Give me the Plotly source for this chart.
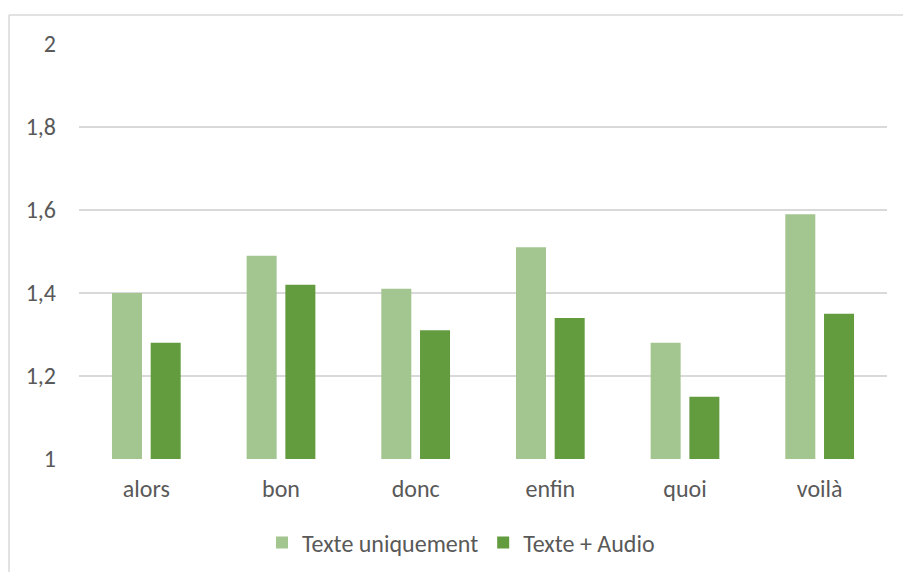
import plotly.graph_objects as go

categories = ["alors", "bon", "donc", "enfin", "quoi", "voilà"]
texte_uniquement = [1.40, 1.49, 1.41, 1.51, 1.28, 1.59]
texte_audio = [1.28, 1.42, 1.31, 1.34, 1.15, 1.35]
tick_vals = [1, 1.2, 1.4, 1.6, 1.8, 2]
tick_text = ["1", "1,2", "1,4", "1,6", "1,8", "2"]

W, H = 903, 572
L, R, T, B = 79, 16, 44, 113
pw, ph = W - L - R, H - T - B

font = dict(family="Carlito, Calibri, 'Open Sans', sans-serif", size=24, color="#595959")

fig = go.Figure()
fig.add_trace(go.Bar(x=categories, y=texte_uniquement, name="Texte uniquement",
                     marker=dict(color="#A3C58F", line=dict(width=0))))
fig.add_trace(go.Bar(x=categories, y=texte_audio, name="Texte + Audio",
                     marker=dict(color="#639B3F", line=dict(width=0))))

# outer chart border (left and top visible)
bx = (9 - L) / pw
by = (H - B - 15) / ph
fig.add_shape(type="line", xref="paper", yref="paper", x0=bx, x1=bx, y0=by, y1=-B / ph - 0.1,
              line=dict(color="#D9D9D9", width=1.5))
fig.add_shape(type="line", xref="paper", yref="paper", x0=bx, x1=(W - L) / pw + 0.1, y0=by, y1=by,
              line=dict(color="#D9D9D9", width=1.5))

fig.update_layout(
    width=W, height=H,
    margin=dict(l=L, r=R, t=T, b=B, autoexpand=False),
    paper_bgcolor="white", plot_bgcolor="white",
    barmode="group", bargap=0.425, bargroupgap=0.225,
    font=font,
    showlegend=True,
    legend=dict(orientation="h", x=(461 - L) / pw, xanchor="center", y=-(543 - (H - B)) / ph,
                yanchor="middle", font=font, itemwidth=30, traceorder="normal"),
    xaxis=dict(showgrid=False, showline=False, ticks="", tickfont=font, ticklabelstandoff=13),
    yaxis=dict(range=[1, 2], tickvals=tick_vals, ticktext=tick_text, showgrid=True,
               gridcolor="#D9D9D9", gridwidth=1.5, zeroline=False, showline=False,
               ticks="", tickfont=font, ticklabelstandoff=22),
)

fig.write_html("out.html", config={"displayModeBar": False},
               post_script="document.body.style.margin='0';document.body.style.padding='0';")
